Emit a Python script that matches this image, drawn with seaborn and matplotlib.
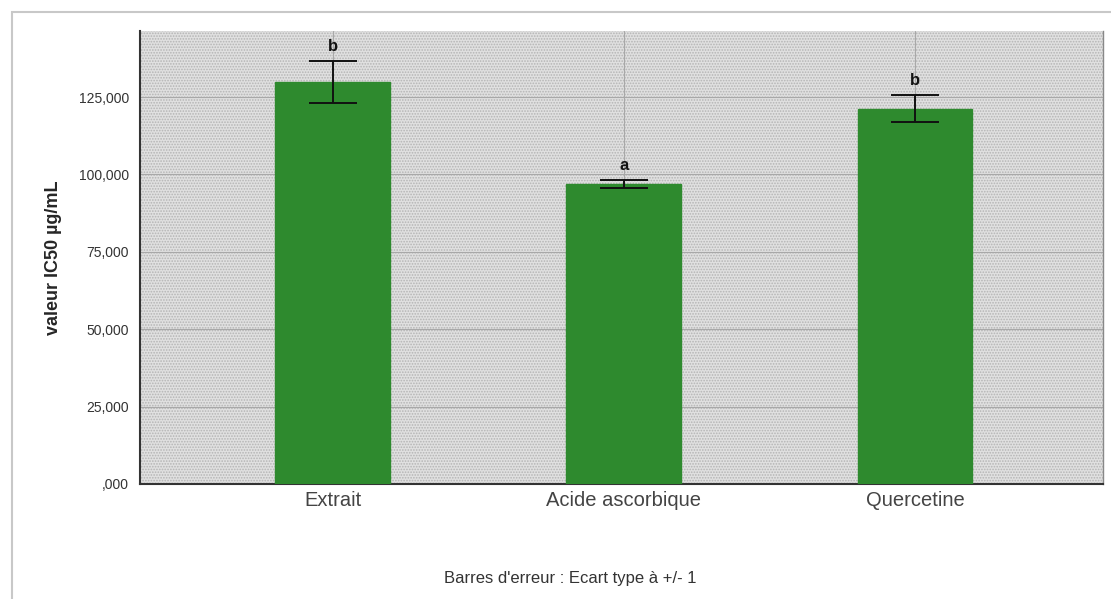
import pandas as pd
import seaborn as sns
import matplotlib.pyplot as plt
from matplotlib.patches import Rectangle
from matplotlib.ticker import FuncFormatter

# IC50 values (µg/mL)
categories = ["Extrait", "Acide ascorbique", "Quercetine"]
means = [129.8, 96.9, 121.3]
sds = [6.8, 1.2, 4.4]
letters = ["b", "a", "b"]

df = pd.DataFrame({"groupe": categories, "ic50": means})

sns.set_style("white")
plt.rcParams["font.family"] = ["Liberation Sans", "DejaVu Sans"]
plt.rcParams["hatch.linewidth"] = 0.8

fig = plt.figure(figsize=(11.11, 5.99), dpi=100)
ax = fig.add_axes([0.126, 0.192, 0.8668, 0.756])

# stippled background like SPSS
ax.set_facecolor("#e0e0e0")
ax.add_patch(Rectangle((0, 0), 1, 1, transform=ax.transAxes, facecolor="#e0e0e0",
                       edgecolor="#b4b4b4", linewidth=0, hatch="......", zorder=0))

sns.barplot(data=df, x="groupe", y="ic50", color="#2e8a2e", width=0.395,
            saturation=1, edgecolor="#2e8a2e", ax=ax, zorder=3)
ax.errorbar(range(len(categories)), means, yerr=sds, fmt="none", ecolor="#111111",
            elinewidth=1.4, capsize=17, capthick=1.4, zorder=4)

for i, (m, s, l) in enumerate(zip(means, sds, letters)):
    ax.text(i, m + s + 2.3, l, ha="center", va="bottom", fontsize=12,
            fontweight="bold", color="#111111", zorder=5)

ax.set_ylim(0, 146.3)
ax.set_xlim(-0.663, 2.646)
ax.set_yticks([0, 25, 50, 75, 100, 125])


def fmt(v, pos):
    s = f"{v:.3f}".replace(".", ",")
    return s[1:] if s.startswith("0") else s


ax.yaxis.set_major_formatter(FuncFormatter(fmt))
ax.grid(axis="y", color="#a8a8a8", linewidth=0.8, zorder=1)
ax.set_axisbelow(True)
for i in range(len(categories)):
    ax.axvline(i, color="#a8a8a8", linewidth=0.8, zorder=1)

ax.tick_params(axis="y", length=0, labelsize=10, pad=8, labelcolor="#333333")
ax.tick_params(axis="x", length=0, labelsize=14.5, pad=5, labelcolor="#444444")
ax.set_xlabel("")
ax.set_ylabel("valeur IC50 µg/mL", fontsize=13, fontweight="bold", labelpad=12)

for side in ["left", "bottom"]:
    ax.spines[side].set_color("#333333")
    ax.spines[side].set_linewidth(1.5)
ax.spines["right"].set_color("#888888")
ax.spines["right"].set_linewidth(1.0)
ax.spines["top"].set_visible(False)

fig.text(0.513, 0.035, "Barres d'erreur : Ecart type à +/- 1", ha="center",
         va="center", fontsize=12, color="#333333")

# outer frame
fig.patches.append(Rectangle((0.011, -0.01), 1.0, 0.99, transform=fig.transFigure,
                             fill=False, edgecolor="#c8c8c8", linewidth=1.5))

fig.savefig("out.png", dpi=100)
